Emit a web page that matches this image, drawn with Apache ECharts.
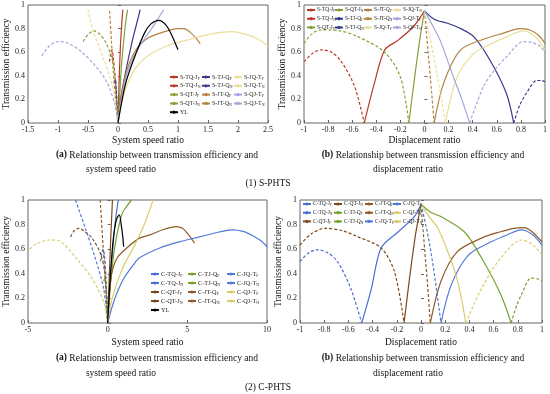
<!DOCTYPE html>
<html><head><meta charset="utf-8">
<script src="https://cdn.jsdelivr.net/npm/echarts@6/dist/echarts.min.js"></script>
<style>html,body{margin:0;padding:0;background:#fff}#c{width:550px;height:394px}</style>
</head><body><div id="c"></div>
<script>
// ---------- tick labels / axes ----------
const speedTicksS = [-1.5, 2.5, 0.5];
const dispTicks = [-1, 1, 0.2];
const speedTicksC = [-5, 10, 5];
const effTicks = [0, 1, 0.2];

// ---------- (1) S-PHTS, (a) efficiency vs system speed ratio ----------
const sa_TQJ_F = [[0,0],[0.01,0.2],[0.025,0.45],[0.04,0.65],[0.06,0.82],[0.08,0.96]];
const sa_TQJ_N = [[-0.14,0.52],[-0.12,0.6],[-0.1,0.62],[-0.08,0.56],[-0.05,0.4],[-0.02,0.16],[0,0]];
const sa_QTJ_F = [[0,0],[0.03,0.25],[0.06,0.5],[0.1,0.72],[0.13,0.86],[0.16,0.96]];
const sa_QTJ_N = [[-0.58,0.69],[-0.5,0.75],[-0.4,0.78],[-0.3,0.75],[-0.2,0.68],[-0.08,0.51],[-0.03,0.25],[0,0]];
const sa_TJQ_F = [[0,0],[0.05,0.22],[0.13,0.44],[0.24,0.7],[0.3,0.82],[0.34,0.9],[0.37,0.96]];
const sa_TJQ_N = [[-0.06,0.34],[-0.045,0.37],[-0.03,0.3],[-0.015,0.15],[0,0]];
const sa_JTQ_F = [[0,0],[0.05,0.22],[0.15,0.45],[0.3,0.62],[0.5,0.72],[0.75,0.77],[1.0,0.8],[1.1,0.8],[1.2,0.77],[1.3,0.72],[1.37,0.67]];
const sa_JTQ_N = [[-0.14,0.95],[-0.11,0.7],[-0.08,0.45],[-0.04,0.2],[0,0]];
const sa_JQT_F = [[0,0],[0.05,0.15],[0.15,0.32],[0.3,0.47],[0.5,0.57],[0.8,0.65],[1.2,0.71],[1.6,0.76],[1.9,0.775],[2.2,0.74],[2.4,0.69],[2.5,0.65]];
const sa_JQT_N = [[-0.5,0.96],[-0.42,0.79],[-0.23,0.53],[-0.09,0.31],[-0.03,0.12],[0,0]];
const sa_QJT_F = [[0,0],[0.05,0.18],[0.15,0.42],[0.3,0.6],[0.45,0.72],[0.6,0.83],[0.76,0.96]];
const sa_QJT_N = [[-1.27,0.57],[-1.15,0.65],[-1.0,0.69],[-0.85,0.68],[-0.65,0.62],[-0.42,0.51],[-0.2,0.36],[-0.06,0.17],[0,0]];
const sa_YL = [[0,0],[0.13,0.34],[0.3,0.59],[0.45,0.77],[0.55,0.84],[0.68,0.87],[0.8,0.83],[0.9,0.74],[1.0,0.62]];

// ---------- (1) S-PHTS, (b) efficiency vs displacement ratio ----------
const sb_TQJ_F = [[-0.5,0],[-0.415,0.34],[-0.33,0.62],[-0.22,0.70],[-0.09,0.82],[0,0.95]];
const sb_TQJ_N = [[-1,0.52],[-0.93,0.59],[-0.855,0.62],[-0.77,0.6],[-0.69,0.52],[-0.58,0.31],[-0.5,0]];
const sb_QTJ_F = [[-0.13,0],[-0.08,0.4],[-0.04,0.7],[0,0.95]];
const sb_QTJ_N = [[-1,0.675],[-0.93,0.76],[-0.855,0.79],[-0.7,0.78],[-0.55,0.73],[-0.33,0.6],[-0.2,0.39],[-0.13,0]];
const sb_TJQ_F = [[0,0.95],[0.08,0.88],[0.19,0.845],[0.3,0.8],[0.41,0.73],[0.545,0.53],[0.68,0.25],[0.74,0]];
const sb_TJQ_N = [[0.74,0],[0.79,0.15],[0.85,0.26],[0.93,0.36],[0.97,0.36],[1,0.35]];
const sb_JTQ_F = [[0.08,0],[0.16,0.34],[0.3,0.62],[0.52,0.72],[0.65,0.76],[0.79,0.8],[0.87,0.79],[0.95,0.74],[1,0.675]];
const sb_JTQ_N = [[0,0.95],[0.03,0.6],[0.06,0.25],[0.08,0]];
const sb_JQT_F = [[0.174,0],[0.27,0.39],[0.41,0.59],[0.55,0.67],[0.68,0.73],[0.82,0.78],[0.92,0.73],[1,0.62]];
const sb_JQT_N = [[0,0.95],[0.05,0.7],[0.11,0.38],[0.174,0]];
const sb_QJT_F = [[0,0.95],[0.07,0.82],[0.13,0.70],[0.24,0.39],[0.31,0.2],[0.375,0]];
const sb_QJT_N = [[0.375,0],[0.49,0.31],[0.59,0.46],[0.68,0.56],[0.82,0.69],[0.9,0.68],[0.96,0.65],[1,0.6]];

// ---------- (2) C-PHTS, (a) efficiency vs system speed ratio ----------
const ca_TQJ_F = [[0,0],[0.15,0.3],[0.35,0.65],[0.5,0.85],[0.67,1.0]];
const ca_TQJ_N = [[-0.45,0.5],[-0.3,0.6],[-0.2,0.55],[-0.1,0.35],[0,0]];
const ca_QTJ_F = [[0,0],[0.08,0.3],[0.18,0.65],[0.3,1.0]];
const ca_QTJ_N = [[-2.33,0.70],[-2.1,0.75],[-1.8,0.77],[-1.4,0.74],[-0.98,0.69],[-0.47,0.57],[-0.16,0.39],[0,0]];
const ca_TJQ_F = [[0,0],[0.2,0.35],[0.47,0.635],[0.88,0.88],[1.2,0.95],[1.5,1.0]];
const ca_TJQ_N = [[-0.25,0.34],[-0.17,0.365],[-0.1,0.3],[-0.05,0.15],[0,0]];
const ca_JTQ_F = [[0,0],[0.1,0.22],[0.25,0.4],[0.6,0.53],[1.2,0.61],[2.0,0.69],[2.65,0.716],[3.5,0.76],[4.3,0.784],[4.7,0.77],[5.0,0.73],[5.45,0.65]];
const ca_JTQ_N = [[-0.47,1.0],[-0.3,0.65],[-0.15,0.35],[0,0]];
const ca_JQT_F = [[0,0],[0.3,0.14],[0.6,0.25],[1.0,0.36],[1.6,0.47],[2.0,0.53],[3.27,0.61],[4.5,0.66],[5.76,0.70],[7,0.74],[7.8,0.757],[8.5,0.745],[9.1,0.71],[9.6,0.67],[10,0.62]];
const ca_JQT_N = [[-2.02,1.0],[-1.4,0.77],[-0.78,0.527],[-0.26,0.284],[0,0]];
const ca_QJT_F = [[0,0],[0.26,0.19],[0.88,0.43],[1.7,0.635],[2.3,0.8],[2.85,1.0]];
const ca_QJT_N = [[-4.9,0.6],[-4.5,0.64],[-3.7,0.675],[-3.0,0.665],[-2.0,0.53],[-1.0,0.365],[-0.26,0.175],[0,0]];
const ca_YL = [[0,0],[0.15,0.35],[0.35,0.68],[0.55,0.84],[0.73,0.88],[0.85,0.8],[0.95,0.7],[1.0,0.62]];

// ---------- (2) C-PHTS, (b) efficiency vs displacement ratio ----------
const cb_TQJ_F = [[-0.49,0],[-0.41,0.28],[-0.33,0.61],[-0.19,0.74],[-0.055,0.865],[0,0.965]];
const cb_TQJ_N = [[-1,0.5],[-0.93,0.57],[-0.855,0.595],[-0.77,0.57],[-0.69,0.5],[-0.58,0.28],[-0.49,0]];
const cb_QTJ_F = [[-0.14,0],[-0.09,0.4],[-0.045,0.72],[0,0.965]];
const cb_QTJ_N = [[-1,0.635],[-0.9,0.73],[-0.79,0.77],[-0.65,0.75],[-0.52,0.70],[-0.33,0.61],[-0.22,0.42],[-0.14,0]];
const cb_TJQ_F = [[0,0.965],[0.08,0.9],[0.165,0.865],[0.36,0.74],[0.5,0.53],[0.66,0.23],[0.745,0]];
const cb_TJQ_N = [[0.745,0],[0.79,0.14],[0.83,0.23],[0.91,0.365],[0.96,0.36],[1,0.34]];
const cb_JTQ_F = [[0.077,0],[0.165,0.34],[0.3,0.58],[0.5,0.69],[0.65,0.74],[0.77,0.77],[0.85,0.775],[0.92,0.74],[1,0.66]];
const cb_JTQ_N = [[0,0.965],[0.03,0.6],[0.055,0.3],[0.077,0]];
const cb_JQT_F = [[0.165,0],[0.25,0.31],[0.39,0.55],[0.58,0.66],[0.72,0.72],[0.83,0.757],[0.92,0.72],[1,0.635]];
const cb_JQT_N = [[0,0.965],[0.06,0.7],[0.11,0.4],[0.165,0]];
const cb_QJT_F = [[0,0.965],[0.07,0.86],[0.14,0.77],[0.28,0.42],[0.33,0.22],[0.37,0]];
const cb_QJT_N = [[0.37,0],[0.5,0.28],[0.66,0.53],[0.83,0.675],[0.92,0.64],[1,0.554]];

// ---------- texts ----------
const yName = 'Transmission efficiency';
const xNameSpeed = 'System speed ratio';
const xNameDisp = 'Displacement ratio';
const capA1 = 'Relationship between transmission efficiency and';
const capA2 = 'system speed ratio';
const capB2 = 'displacement ratio';
const groupS = '(1) S-PHTS';
const groupC = '(2) C-PHTS';

// ---------- styling ----------
const FF = 'Liberation Serif';
const colS = {TQJ:'#b83a25', QTJ:'#84a03a', TJQ:'#383a8c', JTQ:'#b5823f', JQT:'#e9df98', QJT:'#a3a6dc', YL:'#000'};
const colC = {TQJ:'#4a6fd4', QTJ:'#7b4a1c', TJQ:'#74a22e', JTQ:'#8e5b26', JQT:'#4f7ad6', QJT:'#d9cd6c', YL:'#000'};

const series = [];
function add(name, data, g, color, dashed){
  series.push({type:'line', name, data, xAxisIndex:g, yAxisIndex:g, showSymbol:false, symbol:'none',
    smooth:0.3, lineStyle:{color, width:1.2, type: dashed ? [3,2] : 'solid'}, itemStyle:{color}, z:2, silent:true});
}
function addSet(p, g, d, col){
  const keys = ['TQJ','QTJ','TJQ','JTQ','JQT','QJT'];
  const lbl = {TQJ:'TQ-J', QTJ:'QT-J', TJQ:'TJ-Q', JTQ:'JT-Q', JQT:'JQ-T', QJT:'QJ-T'};
  keys.forEach(k=>{
    add(p+'-'+lbl[k]+'_F', d[k+'_F'], g, col[k], false);
    add(p+'-'+lbl[k]+'_N', d[k+'_N'], g, col[k], true);
  });
  if (d.YL) add('YL', d.YL, g, '#000', false);
}
addSet('S', 0, {TQJ_F:sa_TQJ_F,TQJ_N:sa_TQJ_N,QTJ_F:sa_QTJ_F,QTJ_N:sa_QTJ_N,TJQ_F:sa_TJQ_F,TJQ_N:sa_TJQ_N,JTQ_F:sa_JTQ_F,JTQ_N:sa_JTQ_N,JQT_F:sa_JQT_F,JQT_N:sa_JQT_N,QJT_F:sa_QJT_F,QJT_N:sa_QJT_N,YL:sa_YL}, colS);
addSet('S', 1, {TQJ_F:sb_TQJ_F,TQJ_N:sb_TQJ_N,QTJ_F:sb_QTJ_F,QTJ_N:sb_QTJ_N,TJQ_F:sb_TJQ_F,TJQ_N:sb_TJQ_N,JTQ_F:sb_JTQ_F,JTQ_N:sb_JTQ_N,JQT_F:sb_JQT_F,JQT_N:sb_JQT_N,QJT_F:sb_QJT_F,QJT_N:sb_QJT_N}, colS);
addSet('C', 2, {TQJ_F:ca_TQJ_F,TQJ_N:ca_TQJ_N,QTJ_F:ca_QTJ_F,QTJ_N:ca_QTJ_N,TJQ_F:ca_TJQ_F,TJQ_N:ca_TJQ_N,JTQ_F:ca_JTQ_F,JTQ_N:ca_JTQ_N,JQT_F:ca_JQT_F,JQT_N:ca_JQT_N,QJT_F:ca_QJT_F,QJT_N:ca_QJT_N,YL:ca_YL}, colC);
addSet('C', 3, {TQJ_F:cb_TQJ_F,TQJ_N:cb_TQJ_N,QTJ_F:cb_QTJ_F,QTJ_N:cb_QTJ_N,TJQ_F:cb_TJQ_F,TJQ_N:cb_TJQ_N,JTQ_F:cb_JTQ_F,JTQ_N:cb_JTQ_N,JQT_F:cb_JQT_F,JQT_N:cb_JQT_N,QJT_F:cb_QJT_F,QJT_N:cb_QJT_N}, colC);

const grids = [
  {left:27, top:5, width:241, height:118},
  {left:304, top:5, width:243, height:118},
  {left:25, top:200, width:242, height:123},
  {left:300, top:200, width:242, height:123}
].map(g=>Object.assign({show:true, borderColor:'#666', borderWidth:1, backgroundColor:'#fff'}, g));

const lab = {fontFamily:FF, fontSize:8, color:'#222', margin:3};
function xa(g, t, name, gap){
  return {type:'value', gridIndex:g, min:t[0], max:t[1], interval:t[2], name, nameLocation:'middle', nameGap:gap,
    nameTextStyle:{fontFamily:FF, fontSize:9.5, color:'#111'}, axisLine:{show:false},
    axisTick:{inside:true, length:3, lineStyle:{color:'#666'}}, splitLine:{show:false}, axisLabel:lab};
}
function ya(g){
  return {type:'value', gridIndex:g, min:0, max:1, interval:0.2, name:yName, nameLocation:'middle', nameGap:17,
    nameTextStyle:{fontFamily:FF, fontSize:9.5, color:'#111'}, axisLine:{show:false},
    axisTick:{inside:true, length:3, lineStyle:{color:'#666'}}, splitLine:{show:false}, axisLabel:lab};
}

function fmt(n){ return n.replace(/_(\w)$/, '{s|$1}'); }
function leg(names, left, top, gap, fs){
  return {data:names, orient:'vertical', left, top, itemGap:gap, itemWidth:8, itemHeight:4, padding:0,
    selectedMode:false, formatter:fmt, inactiveColor:'#ccc',
    textStyle:{fontFamily:FF, fontSize:fs, color:'#222', padding:[0,0,0,-3],
      rich:{s:{fontFamily:FF, fontSize:fs*0.65, padding:[3,0,0,0]}}}};
}
const legends = [
  leg(['S-TQ-J_F','S-TQ-J_N','S-QT-J_F','S-QT-J_N','YL'], 169, 74, 2.3, 6),
  leg(['S-TJ-Q_F','S-TJ-Q_N','S-JT-Q_F','S-JT-Q_N'], 201, 74, 2.3, 6),
  leg(['S-JQ-T_F','S-JQ-T_N','S-QJ-T_F','S-QJ-T_N'], 233, 74, 2.3, 6),
  leg(['S-TQ-J_F','S-TQ-J_N','S-QT-J_F'], 306, 7, 2.2, 5.5),
  leg(['S-QT-J_N','S-TJ-Q_F','S-TJ-Q_N'], 334, 7, 2.2, 5.5),
  leg(['S-JT-Q_F','S-JT-Q_N','S-JQ-T_F'], 363, 7, 2.2, 5.5),
  leg(['S-JQ-T_N','S-QJ-T_F','S-QJ-T_N'], 392, 7, 2.2, 5.5),
  leg(['C-TQ-J_F','C-TQ-J_N','C-QT-J_F','C-QT-J_N','YL'], 150, 271, 2.5, 6.3),
  leg(['C-TJ-Q_F','C-TJ-Q_N','C-JT-Q_F','C-JT-Q_N'], 187, 271, 2.5, 6.3),
  leg(['C-JQ-T_F','C-JQ-T_N','C-QJ-T_F','C-QJ-T_N'], 226, 271, 2.5, 6.3),
  leg(['C-TQ-J_F','C-TQ-J_N','C-QT-J_F'], 302, 201, 2.2, 5.5),
  leg(['C-QT-J_N','C-TJ-Q_F','C-TJ-Q_N'], 333, 201, 2.2, 5.5),
  leg(['C-JT-Q_F','C-JT-Q_N','C-JQ-T_F'], 364, 201, 2.2, 5.5),
  leg(['C-JQ-T_N','C-QJ-T_F','C-QJ-T_N'], 392, 201, 2.2, 5.5)
];

function txt(x, y, text, rich){
  return {type:'text', x, y, silent:true, style:{text, fill:'#111', font:'9.5px "'+FF+'"', align:'center', verticalAlign:'middle',
    rich: rich || {}}};
}
const boldRich = {b:{fontFamily:FF, fontSize:9.5, fontWeight:'bold', fill:'#111'}};
const graphic = [
  txt(157, 155, '{b|(a)} '+capA1, boldRich), txt(121, 169, capA2),
  txt(423, 155, '{b|(b)} '+capA1, boldRich), txt(408, 169, capB2),
  txt(268, 183, groupS),
  txt(157, 358, '{b|(a)} '+capA1, boldRich), txt(121, 373, capA2),
  txt(423, 358, '{b|(b)} '+capA1, boldRich), txt(408, 373, capB2),
  txt(268, 387, groupC)
];

const chart = echarts.init(document.getElementById('c'), null, {renderer:'canvas'});
chart.setOption({
  animation:false, backgroundColor:'#fff',
  grid:grids,
  xAxis:[xa(0, speedTicksS, xNameSpeed, 12), xa(1, dispTicks, xNameDisp, 12), xa(2, speedTicksC, xNameSpeed, 14), xa(3, dispTicks, xNameDisp, 14)],
  yAxis:[ya(0), ya(1), ya(2), ya(3)],
  legend:legends,
  series,
  graphic
});
</script></body></html>
